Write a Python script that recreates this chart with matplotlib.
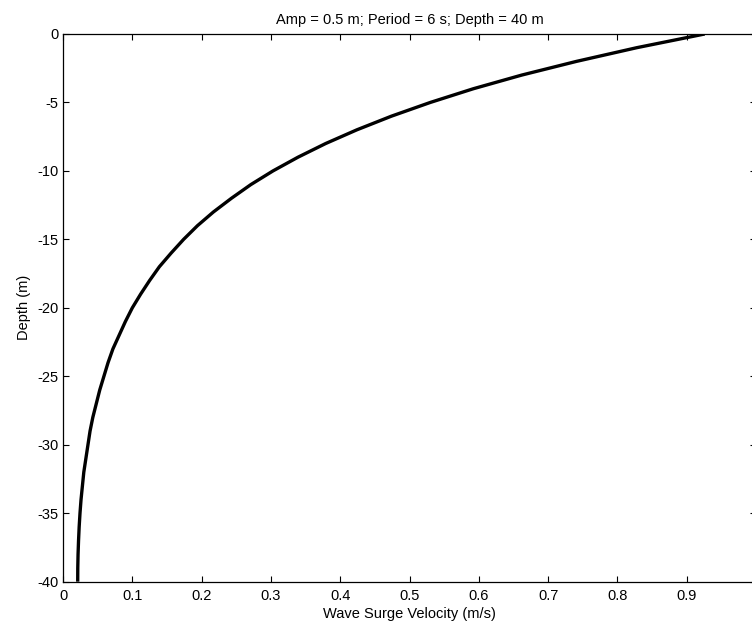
import matplotlib.pyplot as plt

# Data (depth in m, velocity in m/s)
depth = [0, -1, -2, -3, -4, -5, -6, -7, -8, -9, -10,
         -11, -12, -13, -14, -15, -16, -17, -18, -19, -20,
         -21, -22, -23, -24, -25, -26, -27, -28, -29, -30,
         -31, -32, -33, -34, -35, -36, -37, -38, -39, -40]
velocity = [0.926, 0.828, 0.741, 0.662, 0.592, 0.530, 0.474, 0.424, 0.379, 0.339, 0.303,
            0.271, 0.243, 0.217, 0.194, 0.174, 0.156, 0.139, 0.125, 0.112, 0.100,
            0.090, 0.081, 0.072, 0.065, 0.059, 0.053, 0.048, 0.043, 0.039, 0.036,
            0.033, 0.030, 0.028, 0.026, 0.0245, 0.0233, 0.0224, 0.0217, 0.0213, 0.0212]

xticks = [0, 0.1, 0.2, 0.3, 0.4, 0.5, 0.6, 0.7, 0.8, 0.9]
xticklabels = ['0', '0.1', '0.2', '0.3', '0.4', '0.5', '0.6', '0.7', '0.8', '0.9']
yticks = [0, -5, -10, -15, -20, -25, -30, -35, -40]

plt.rcParams['font.family'] = ['Liberation Sans', 'DejaVu Sans']
plt.rcParams['axes.unicode_minus'] = False

fig = plt.figure(figsize=(7.52, 6.26), dpi=100)
ax = fig.add_axes([0.0838, 0.0708, 0.9215, 0.8749])

ax.plot(velocity, depth, color='black', linewidth=2.4,
        solid_joinstyle='round', solid_capstyle='butt')

ax.set_xlim(0, 1)
ax.set_ylim(-40, 0)
ax.set_xticks(xticks)
ax.set_xticklabels(xticklabels)
ax.set_yticks(yticks)
ax.set_yticklabels([str(t) for t in yticks])

ax.tick_params(direction='in', length=4, width=0.8, top=True, right=True,
               labelsize=10.5, pad=3)
ax.tick_params(axis='x', pad=5)
for s in ax.spines.values():
    s.set_linewidth(0.9)

ax.set_xlabel('Wave Surge Velocity (m/s)', fontsize=10.5, labelpad=3)
ax.set_ylabel('Depth (m)', fontsize=10.5, labelpad=5)
ax.set_title('Amp = 0.5 m; Period = 6 s; Depth = 40 m', fontsize=10.5, pad=7)

fig.savefig('out.png', dpi=100)
